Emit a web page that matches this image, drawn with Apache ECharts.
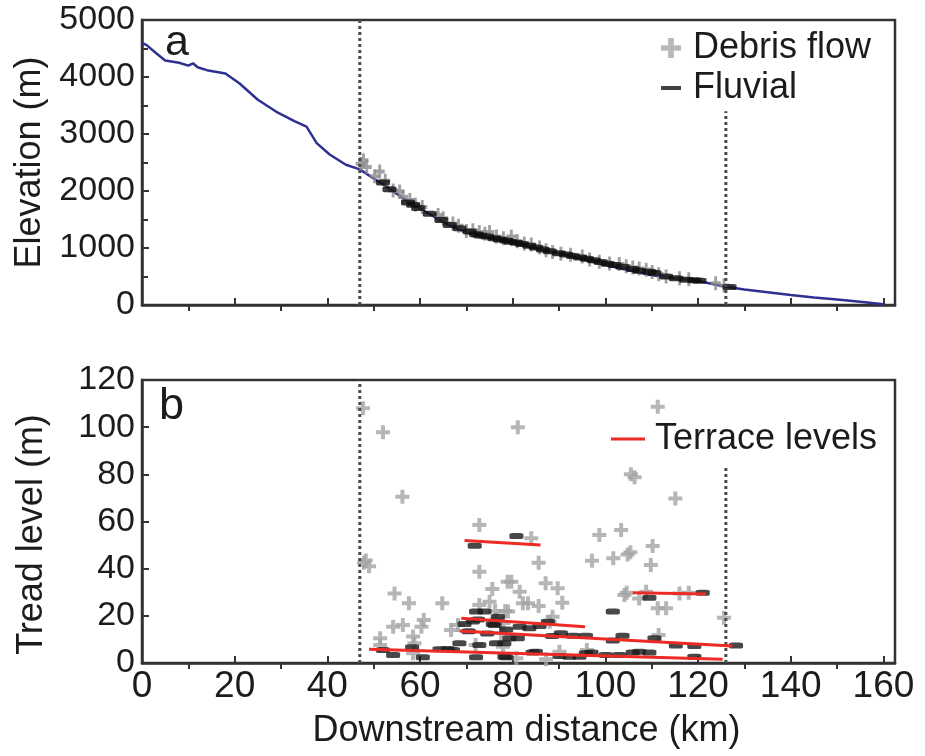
<!DOCTYPE html>
<html><head><meta charset="utf-8">
<script src="https://cdn.jsdelivr.net/npm/echarts@6/dist/echarts.min.js"></script>
<style>html,body{margin:0;padding:0;background:#fff}#c{width:925px;height:756px}</style>
</head><body><div id="c"></div>
<script>
// ---- Panel a: longitudinal river profile ----
const profileKm   = [0,1,3,5,8,10,11,12,14,18,21,25,29,33,35.5,37.7,40.5,44,47,50,52,55,57,60,62,66,70,75,80,86,90,95,100,105,110,115,120,126,130,135,140,145,150,155,160];
const profileElev = [4600,4560,4420,4290,4250,4200,4240,4170,4120,4060,3890,3600,3390,3220,3130,2840,2640,2460,2380,2220,2120,1950,1830,1690,1600,1410,1270,1170,1090,970,900,800,700,610,520,465,420,320,270,225,175,130,95,55,15];

const debrisTopKm   = [47.2,47.8,48.5,50.2,51.3,52.5,54.2,55.6,56.3,57.8,59.0,60.5,63.9,65.0,67.1,68.3,70.0,71.4,72.8,74.0,75.0,76.5,78.0,79.7,81.0,82.5,84.0,85.8,87.2,88.6,90.4,92.5,95.0,96.6,98.7,100.9,103.0,104.5,105.9,107.3,108.8,110.1,111.5,113.1,116.0,118.0,123.8,125.6];
const debrisTopElev = [2480,2540,2420,2260,2340,2180,2010,1990,1900,1840,1760,1720,1580,1520,1430,1390,1300,1310,1280,1250,1280,1200,1170,1200,1120,1080,1060,1010,960,930,900,880,850,800,760,730,720,680,660,640,620,580,540,500,470,450,380,340];

const fluvialTopKm   = [52.0,53.4,57.4,58.5,59.6,62.1,64.6,66.4,68.5,70.7,72.1,73.0,74.5,76.0,77.2,78.6,79.5,80.8,82.0,83.6,85.0,86.5,88.0,90.0,91.5,93.0,94.5,96.0,97.5,99.0,100.5,102.0,103.7,105.9,107.3,109.5,110.6,113.1,115.2,117.4,119.2,120.3,126.8];
const fluvialTopElev = [2150,2030,1800,1760,1700,1600,1490,1405,1345,1290,1240,1220,1200,1170,1150,1130,1110,1090,1070,1040,1010,975,945,910,885,860,835,810,785,755,725,700,670,630,600,585,560,500,470,445,435,425,315];

// ---- Panel b: tread levels ----
const debrisKm    = [47.7,52.0,56.2,47.9,49.0,48.3,54.5,57.6,64.8,54.2,56.3,60.3,60.8,51.4,51.4,58.5,58.5,58.8,66.7,68.2,72.8,72.8,75.6,72.8,75.0,78.9,76.2,78.4,72.0,81.1,84.0,85.6,79.7,81.5,87.1,89.7,82.2,83.3,85.6,90.7,88.6,79.0,87.2,80.8,98.7,103.4,105.5,106.3,97.1,101.7,104.8,105.4,111.3,110.2,109.8,104.1,104.6,108.8,107.3,111.3,113.1,116.0,118.0,115.1,125.6,111.5,96.0,90.1,77.9,77.5,76.5,78.0,88.0];
const debrisTread = [108,97.8,70.5,42.5,41.0,43.5,29.5,25.3,25.3,15.4,16.1,15.4,18.2,10.5,7.6,11.2,4.1,8.4,14.0,16.1,58.5,38.7,31.4,24.6,26.0,34.5,22.0,22.0,7.6,100,52.9,42.5,34.5,30.2,33.8,31.7,25.3,25.3,24.2,25.6,19.6,21.8,1.6,2.0,54.3,56.4,80.0,78.8,43.4,44.4,46.0,47.0,108.7,49.6,41.6,28.8,29.8,30.2,27.4,23.2,23.2,29.5,29.8,69.8,19.2,11.9,5.5,4.8,6.9,12.6,18.5,17.0,17.5];

const fluvialKm    = [71.8,80.8,72.1,73.9,71.4,72.5,76.8,75.7,78.6,81.5,83.6,87.6,85.8,68.5,72.8,72.1,78.6,76.4,79.3,81.1,54.2,58.3,60.6,52.0,64.2,67.1,84.3,90.1,95.8,101.6,103.7,105.9,90.4,93.0,95.8,101.6,92.2,94.4,109.5,110.6,115.2,119.2,121.0,128.2,109.5,100.1,103.0,119.2,85.0,97.0,107.3,70.5,74.5,69.6,76.1,78.2,78.2,66.0,88.5];
const fluvialTread = [49.7,53.9,21.8,21.8,17.6,18.4,19.6,16.5,14.2,15.4,14.7,17.5,15.7,8.4,7.6,2.4,2.4,8.4,10.5,10.5,3.4,6.7,2.4,5.5,5.8,5.5,4.4,3.0,4.1,21.8,11.6,4.4,12.6,11.6,11.6,9.5,2.7,2.7,27.7,10.5,7.4,7.2,29.8,7.4,4.4,3.4,3.4,2.7,4.8,4.5,4.8,13.5,12.5,16.5,16.1,8.4,2.7,5.9,11.5];

// Terrace level segments (start/end km and tread level)
const terraceStartKm    = [69.6, 68.9, 68.5, 49.0, 105.9];
const terraceEndKm      = [86.0, 95.6, 127.4, 125.3, 121.7];
const terraceStartLevel = [51.9, 19.0, 13.6, 5.8, 29.8];
const terraceEndLevel   = [50.0, 15.4, 7.2, 1.6, 29.3];

// Study-reach boundaries (dotted lines)
const boundaryKm     = [47, 126];
const boundaryTopA   = [5000, 3400];
const boundaryTopB   = [120, 84];

// Tick labels
const xMajorTicks = [0,20,40,60,80,100,120,140,160];
const xMinorTicks = [10,30,50,70,90,110,130,150];

const FONT = "'Liberation Sans', Arial, Helvetica, sans-serif";
const TXT = '#1c1c1c';
const FRAME = '#333';
const PLUS = 'path://M5,0H9V5H14V9H9V14H5V9H0V5H5Z';
const zip = (a, b) => a.map((v, i) => [v, b[i]]);
const plain = v => String(v);

const chart = echarts.init(document.getElementById('c'), null, {renderer: 'canvas'});

function xMajor(grid, showLabel) {
  return {
    type: 'value', gridIndex: grid, min: 0, max: 162.5,
    axisLine: {show: true, onZero: false, lineStyle: {color: FRAME, width: 2.5}},
    axisTick: {show: true, inside: true, length: 7, lineStyle: {color: FRAME, width: 2}, customValues: xMajorTicks},
    axisLabel: {show: showLabel, customValues: xMajorTicks, margin: 5, fontSize: 37, color: TXT, fontFamily: FONT, formatter: plain},
    splitLine: {show: false},
    name: showLabel ? 'Downstream distance (km)' : '',
    nameLocation: 'middle', nameGap: 50,
    nameTextStyle: {fontSize: 36, color: TXT, fontFamily: FONT, padding: [0, 0, 0, 16]}
  };
}
function xMinor(grid) {
  return {
    type: 'value', gridIndex: grid, min: 0, max: 162.5,
    axisLine: {show: false},
    axisTick: {show: true, inside: true, length: 6, lineStyle: {color: FRAME, width: 2}, customValues: xMinorTicks},
    axisLabel: {show: false},
    splitLine: {show: false}
  };
}

const series = [];
series.push({
  name: 'Profile', type: 'line', xAxisIndex: 0, yAxisIndex: 0,
  data: zip(profileKm, profileElev), symbol: 'none', silent: true,
  lineStyle: {color: '#2e3192', width: 2.5}, z: 2
});
boundaryKm.forEach((k, i) => {
  series.push({
    name: 'Boundary a' + i, type: 'line', xAxisIndex: 0, yAxisIndex: 0,
    data: [[k, 0], [k, boundaryTopA[i]]], symbol: 'none', silent: true,
    lineStyle: {color: '#4a4a4a', width: 3, type: [3, 3]}, z: 5
  });
  series.push({
    name: 'Boundary b' + i, type: 'line', xAxisIndex: 2, yAxisIndex: 1,
    data: [[k, 0], [k, boundaryTopB[i]]], symbol: 'none', silent: true,
    lineStyle: {color: '#4a4a4a', width: 3, type: [3, 3]}, z: 5
  });
});
series.push({
  name: 'Debris flow', type: 'scatter', xAxisIndex: 0, yAxisIndex: 0,
  data: zip(debrisTopKm, debrisTopElev), symbol: PLUS, symbolSize: [10, 14],
  itemStyle: {color: '#8a8a8a'}, z: 3
});
series.push({
  name: 'Fluvial', type: 'scatter', xAxisIndex: 0, yAxisIndex: 0,
  data: zip(fluvialTopKm, fluvialTopElev), symbol: 'roundRect', symbolSize: [14, 6],
  itemStyle: {color: '#0d0d0d'}, z: 4
});
series.push({
  name: 'Debris flow', type: 'scatter', xAxisIndex: 2, yAxisIndex: 1,
  data: zip(debrisKm, debrisTread), symbol: PLUS, symbolSize: 14,
  itemStyle: {color: '#a4a4a4'}, z: 3
});
series.push({
  name: 'Fluvial', type: 'scatter', xAxisIndex: 2, yAxisIndex: 1,
  data: zip(fluvialKm, fluvialTread), symbol: 'roundRect', symbolSize: [14, 6],
  itemStyle: {color: '#1a1a1a'}, z: 4
});
terraceStartKm.forEach((s, i) => {
  series.push({
    name: 'Terrace levels', type: 'line', xAxisIndex: 2, yAxisIndex: 1,
    data: [[s, terraceStartLevel[i]], [terraceEndKm[i], terraceEndLevel[i]]],
    symbol: 'none', lineStyle: {color: '#ee2a24', width: 3}, itemStyle: {color: '#ee2a24'}, z: 6
  });
});

const legendText = {fontSize: 36, color: TXT, fontFamily: FONT};

chart.setOption({
  animation: false,
  backgroundColor: '#fff',
  title: [
    {text: 'a', left: 165, top: 22, padding: 0, textStyle: {fontSize: 43, fontWeight: 'normal', color: TXT, fontFamily: FONT}},
    {text: 'b', left: 159, top: 384, padding: 0, textStyle: {fontSize: 45, fontWeight: 'normal', color: TXT, fontFamily: FONT}}
  ],
  legend: [
    {data: [{name: 'Debris flow', icon: PLUS}], left: 661, top: 30, padding: 0, itemWidth: 20, itemHeight: 20,
     textStyle: Object.assign({padding: [0, 0, 0, 7]}, legendText), selectedMode: false,
     itemStyle: {color: '#a8a8a8'}},
    {data: [{name: 'Fluvial', icon: 'rect'}], left: 661, top: 70, padding: 0, itemWidth: 20, itemHeight: 4,
     textStyle: Object.assign({padding: [0, 0, 0, 7]}, legendText), selectedMode: false,
     itemStyle: {color: '#111'}},
    {data: [{name: 'Terrace levels', icon: 'rect'}], left: 611, top: 421, padding: 0, itemWidth: 34, itemHeight: 3,
     textStyle: Object.assign({padding: [0, 0, 0, 5]}, legendText), selectedMode: false,
     itemStyle: {color: '#ee2a24'}}
  ],
  grid: [
    {left: 142, top: 20, width: 753, height: 285, show: true, borderColor: FRAME, borderWidth: 2.5, backgroundColor: 'transparent'},
    {left: 142, top: 380, width: 753, height: 283, show: true, borderColor: FRAME, borderWidth: 2.5, backgroundColor: 'transparent'}
  ],
  xAxis: [xMajor(0, false), xMinor(0), xMajor(1, true), xMinor(1)],
  yAxis: [
    {type: 'value', gridIndex: 0, min: 0, max: 5000, interval: 1000,
     axisLine: {show: true, lineStyle: {color: FRAME, width: 2.5}},
     axisTick: {show: true, inside: true, length: 7, lineStyle: {color: FRAME, width: 2}},
     minorTick: {show: true, splitNumber: 2, length: 6, lineStyle: {color: FRAME, width: 2}},
     axisLabel: {margin: 7, fontSize: 34, color: TXT, fontFamily: FONT, formatter: plain},
     splitLine: {show: false}, minorSplitLine: {show: false},
     name: 'Elevation (m)', nameLocation: 'middle', nameGap: 92,
     nameTextStyle: {fontSize: 36, color: TXT, fontFamily: FONT}},
    {type: 'value', gridIndex: 1, min: 0, max: 120, interval: 20,
     axisLine: {show: true, lineStyle: {color: FRAME, width: 2.5}},
     axisTick: {show: true, inside: true, length: 7, lineStyle: {color: FRAME, width: 2}},
     axisLabel: {margin: 7, fontSize: 34, color: TXT, fontFamily: FONT, formatter: plain},
     splitLine: {show: false},
     name: 'Tread level (m)', nameLocation: 'middle', nameGap: 92,
     nameTextStyle: {fontSize: 36, color: TXT, fontFamily: FONT, padding: [0, 26, 0, 0]}}
  ],
  series: series
});
</script>
</body></html>
